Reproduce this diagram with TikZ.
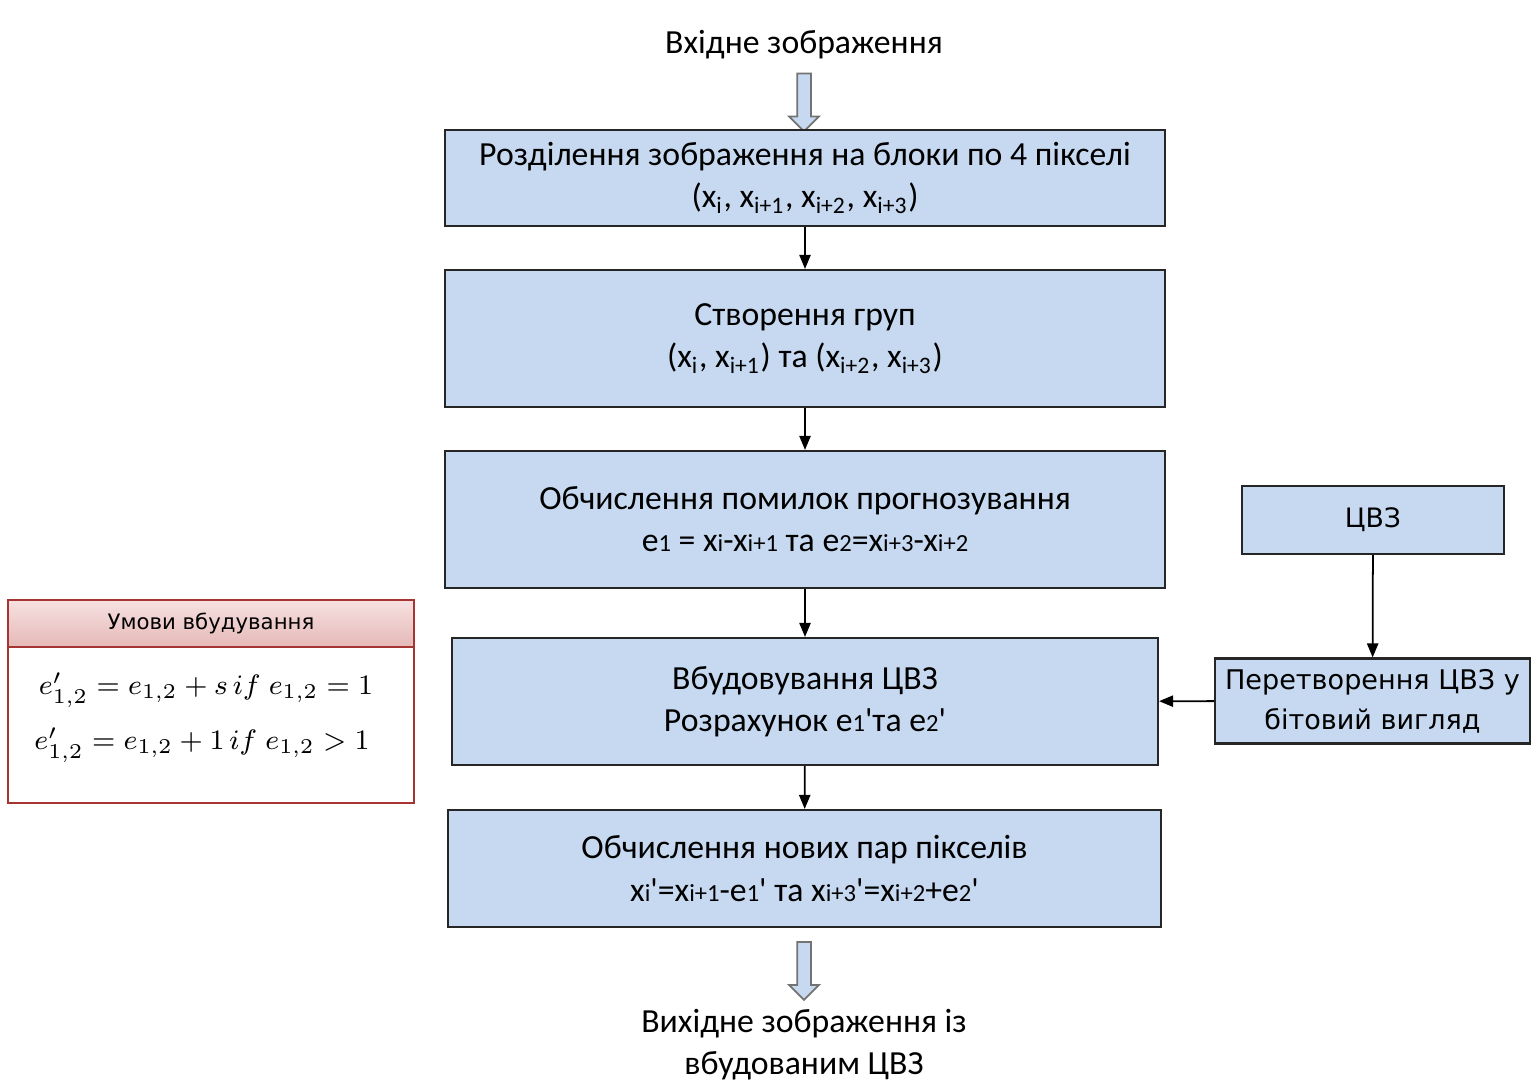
\documentclass[tikz,border=0pt]{standalone}
\usepackage{fontspec}
\setmainfont{Carlito}
\newfontfamily\verd{DejaVu Sans}
\usetikzlibrary{arrows.meta,shapes.arrows}

\definecolor{boxblue}{RGB}{198,217,240}
\definecolor{condred}{RGB}{165,52,50}
\definecolor{pinktop}{RGB}{246,226,225}
\definecolor{pinkbot}{RGB}{229,184,183}
% small figures sitting on the baseline
\newcommand{\sm}[1]{{\fontsize{7}{8}\selectfont #1}}
\newcommand{\pr}{\textquotesingle}

\tikzset{
  stepbox/.style={draw=black!85, fill=boxblue, line width=0.6pt, align=center, inner sep=0pt},
  flow/.style={-{Triangle[length=4pt,width=3.2pt]}, line width=0.5pt},
  hollow/.style={single arrow, draw=black!55, fill=boxblue, line width=0.5pt,
    shape border rotate=270, inner sep=0.06cm, minimum height=0.58cm,
    single arrow head extend=0.08cm}
}

\begin{document}
\begin{tikzpicture}[font=\fontsize{9.6}{12}\selectfont]
  \useasboundingbox (0,0) rectangle (15.36,10.81);
  \fill[white] (0,0) rectangle (15.36,10.81);

  % main column
  \node (inimg) at (8.04,10.36) {Вхідне зображення};
  \node[hollow] (arrin) at (8.04,9.82) {};
  \node[stepbox, minimum width=7.2cm, minimum height=0.96cm] (split) at (8.05,9.03)
    {Розділення зображення на блоки по 4 пікселі\\
     (x\textsubscript{i}, x\textsubscript{i+1}, x\textsubscript{i+2}, x\textsubscript{i+3})};
  \node[stepbox, minimum width=7.2cm, minimum height=1.37cm] (groups) at (8.05,7.425)
    {Створення груп\\
     (x\textsubscript{i}, x\textsubscript{i+1}) та (x\textsubscript{i+2}, x\textsubscript{i+3})};
  \node[stepbox, minimum width=7.2cm, minimum height=1.37cm] (errors) at (8.05,5.615)
    {Обчислення помилок прогнозування\\
     e\sm{1} = x\sm{i}-x\sm{i+1} та e\sm{2}=x\sm{i+3}-x\sm{i+2}};
  \node[stepbox, minimum width=7.06cm, minimum height=1.27cm] (embed) at (8.05,3.795)
    {Вбудовування ЦВЗ\\
     Розрахунок e\sm{1}\pr та e\sm{2}\pr};
  \node[stepbox, minimum width=7.13cm, minimum height=1.17cm] (newpx) at (8.045,2.125)
    {Обчислення нових пар пікселів\\
     x\sm{i}\pr=x\sm{i+1}-e\sm{1}\pr{} та x\sm{i+3}\pr=x\sm{i+2}+e\sm{2}\pr};
  \node[hollow] (arrout) at (8.04,1.135) {};
  \node[align=center] (outimg) at (8.04,0.36) {Вихідне зображення із\\вбудованим ЦВЗ};

  % watermark branch
  \node[stepbox, font=\verd\fontsize{7.6}{11}\selectfont, minimum width=2.62cm,
    minimum height=0.68cm] (cvz) at (13.73,5.61) {ЦВЗ};
  \node[stepbox, font=\verd\fontsize{7.7}{11.4}\selectfont, minimum width=3.15cm,
    minimum height=0.85cm] (conv) at (13.725,3.8) {Перетворення ЦВЗ у\\бітовий вигляд};

  % embedding conditions
  \node[draw=condred, fill=white, line width=0.6pt, minimum width=4.06cm,
    minimum height=2.03cm] (cond) at (2.11,3.795) {};
  \node[draw=condred, top color=pinktop, bottom color=pinkbot, line width=0.6pt,
    minimum width=4.06cm, minimum height=0.47cm, anchor=north,
    font=\verd\fontsize{6.05}{8}\selectfont] (condhead) at (cond.north) {Умови вбудування};
  \node[font=\fontsize{8}{10}\selectfont] (rule1) at (2.06,3.91)
    {$e'_{1,2} = e_{1,2} + s\, if\; e_{1,2} = 1$};
  \node[font=\fontsize{8}{10}\selectfont] (rule2) at (2.02,3.36)
    {$e'_{1,2} = e_{1,2} + 1\, if\; e_{1,2} > 1$};

  \draw[flow] (split) -- (groups);
  \draw[flow] (groups) -- (errors);
  \draw[flow] (errors) -- (embed);
  \draw[flow] (embed) -- (newpx);
  \draw[flow] (cvz) -- (conv);
  \draw[flow] (conv) -- (embed);
\end{tikzpicture}
\end{document}
